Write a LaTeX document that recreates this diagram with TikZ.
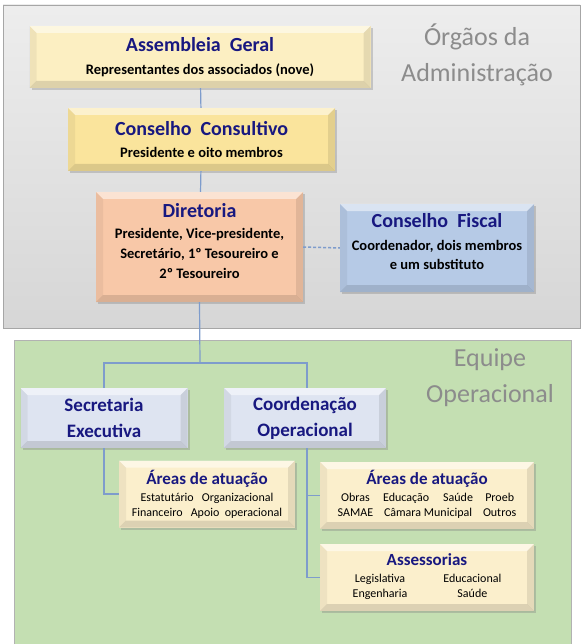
\documentclass[tikz,border=0pt]{standalone}
\usepackage{fontspec}
\setmainfont{Carlito}
\usetikzlibrary{shadows}

\definecolor{navytext}{RGB}{24,24,128}
\definecolor{paneltext}{RGB}{140,140,140}
\definecolor{linkblue}{RGB}{126,156,204}
\definecolor{assemfill}{RGB}{252,239,194}
\definecolor{consfill}{RGB}{250,228,156}
\definecolor{dirfill}{RGB}{248,200,168}
\definecolor{fiscfill}{RGB}{182,202,230}
\definecolor{opfill}{RGB}{222,228,241}
\definecolor{areafill}{RGB}{251,239,204}
\definecolor{greenpanel}{RGB}{196,223,178}

\newcommand{\boxtitle}[1]{{\fontsize{20}{24}\selectfont\bfseries\color{navytext}#1}}
\newcommand{\areatitle}[1]{{\fontsize{17}{20}\selectfont\bfseries\color{navytext}#1}}

\begin{document}
\begin{tikzpicture}[x=1pt,y=-1pt,
	bevel/.style={ path picture={
		\fill[white,opacity=0.5] (path picture bounding box.north west) -- (path picture bounding box.north east)
			-- ([xshift=-7pt,yshift=-7pt]path picture bounding box.north east) -- ([xshift=7pt,yshift=-7pt]path picture bounding box.north west) -- cycle;
		\fill[black,opacity=0.12] (path picture bounding box.south west) -- (path picture bounding box.south east)
			-- ([xshift=-7pt,yshift=7pt]path picture bounding box.south east) -- ([xshift=7pt,yshift=7pt]path picture bounding box.south west) -- cycle;
		\fill[black,opacity=0.05] (path picture bounding box.north west) -- (path picture bounding box.south west)
			-- ([xshift=7pt,yshift=7pt]path picture bounding box.south west) -- ([xshift=7pt,yshift=-7pt]path picture bounding box.north west) -- cycle;
		\fill[black,opacity=0.09] (path picture bounding box.north east) -- (path picture bounding box.south east)
			-- ([xshift=-7pt,yshift=7pt]path picture bounding box.south east) -- ([xshift=-7pt,yshift=-7pt]path picture bounding box.north east) -- cycle;
	} },
	orgbox/.style={ rectangle, inner sep=2pt, align=center, bevel,
		drop shadow={shadow xshift=2pt, shadow yshift=-2pt, opacity=0.35},
		font=\fontsize{14.5}{19.5}\selectfont\bfseries },
	areabox/.style={ orgbox, fill=areafill, minimum height=67pt, font=\fontsize{12}{15}\selectfont },
	link/.style={ linkblue, line width=1.2pt },
	paneltitle/.style={ paneltext, align=center, font=\fontsize{26}{36}\selectfont }
]
\useasboundingbox (0,0) rectangle (584,644);

% panels
\shade[top color=black!7, bottom color=black!16, draw=black!35] (3,5) rectangle (580,328);
\fill[greenpanel] (14,340) rectangle (571,650);
\draw[black!30] (14,650) -- (14,340) -- (571,340) -- (571,650);
\node at (477,55) (orgaos) [paneltitle] {Órgãos da\\Administração};
\node at (490,378) (equipe) [paneltitle] {Equipe\\Operacional};

% administracao
\node at (200,57) (asm) [orgbox, fill=assemfill, minimum width=341pt, minimum height=62pt]
	{\boxtitle{Assembleia\ \ Geral}\\[3pt] Representantes dos associados (nove)};
\node at (201.5,139.5) (cons) [orgbox, fill=consfill, minimum width=267pt, minimum height=63pt]
	{\boxtitle{Conselho\ \ Consultivo}\\[2pt] Presidente e oito membros};
\node at (199.5,247) (dir) [orgbox, fill=dirfill, minimum width=207pt, minimum height=110pt, text depth=12pt]
	{\boxtitle{Diretoria}\\[1pt] Presidente, Vice-presidente,\\[0.5pt] Secretário, 1º Tesoureiro e\\[0.5pt] 2º Tesoureiro};
\node at (437,248) (fisc) [orgbox, fill=fiscfill, minimum width=194pt, minimum height=88pt, text depth=13pt]
	{\boxtitle{Conselho\ \ Fiscal}\\[3pt] Coordenador, dois membros\\ e um substituto};

% equipe
\node at (104,418) (sec) [orgbox, fill=opfill, minimum width=167pt, minimum height=60pt, font=\fontsize{19}{26}\selectfont\bfseries\color{navytext}]
	{Secretaria\\ Executiva};
\node at (305,418) (coord) [orgbox, fill=opfill, minimum width=162pt, minimum height=60pt, font=\fontsize{19}{26}\selectfont\bfseries\color{navytext}]
	{Coordenação\\ Operacional};
\node at (207,494) (area1) [areabox, minimum width=176pt]
	{\areatitle{Áreas de atuação}\\[2pt] Estatutário\ \ \ Organizacional\\ Financeiro\ \ \ Apoio\ \ operacional};
\node at (427,495.5) (area2) [areabox, minimum width=214pt]
	{\areatitle{Áreas de atuação}\\[3pt]
	\begin{tabular}{@{}c@{\hspace{10pt}}c@{\hspace{10pt}}c@{}}
	Obras & Educação\hspace{14pt}Saúde & Proeb\\ SAMAE & Câmara Municipal & Outros
	\end{tabular}};
\node at (427,577.5) (assess) [areabox, minimum width=214pt]
	{\areatitle{Assessorias}\\[5pt]
	\begin{tabular}{@{}c@{\hspace{36pt}}c@{}}
	Legislativa & Educacional\\ Engenharia & Saúde
	\end{tabular}};

% ligacoes
\coordinate (split) at (200,363);
\draw[link] (asm) -- (cons);
\draw[link] (cons) -- (dir);
\draw[link] (dir.south) -- (split);
\draw[link] (split) -| (sec.north);
\draw[link] (split) -| ([xshift=2pt]coord.north);
\draw[link] (sec.south) |- (area1.west);
\draw[link] ([xshift=2pt]coord.south) |- (area2.west);
\draw[link] ([xshift=2pt]coord.south) |- (assess.west);
\draw[link, line width=1.5pt, dash pattern=on 3pt off 2pt] (dir.east) -- (fisc.west);

\end{tikzpicture}
\end{document}
